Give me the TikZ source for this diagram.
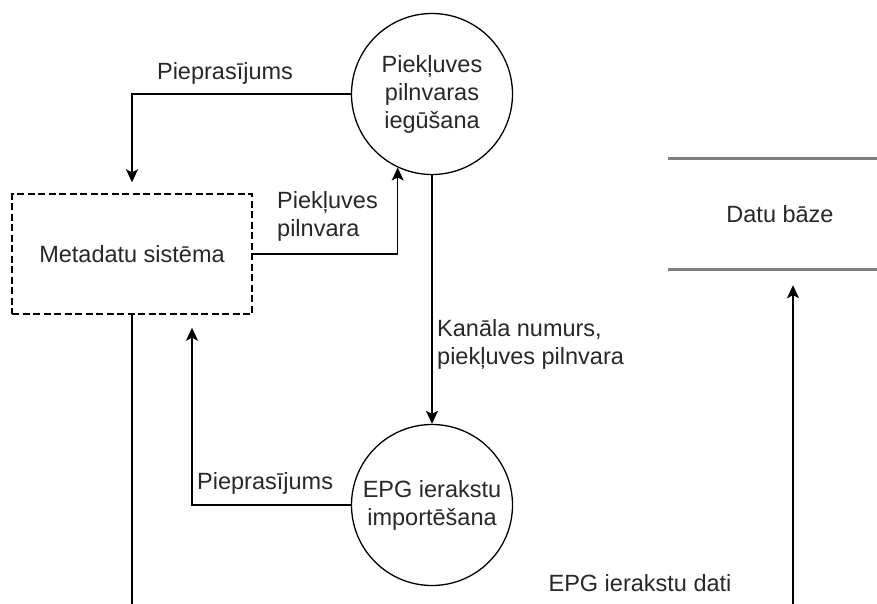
\documentclass[tikz,border=0pt]{standalone}
\usepackage{fontspec}
\setmainfont{Liberation Sans}
\usetikzlibrary{arrows.meta,calc}
\definecolor{txt}{RGB}{40,40,40}
\definecolor{storeline}{RGB}{128,128,128}
\begin{document}
\begin{tikzpicture}[x=1pt,y=-1pt,
  every node/.style={font=\fontsize{23.5}{28}\selectfont, text=txt},
  process/.style={circle, draw=black, line width=1.3pt, minimum size=161pt, inner sep=0pt, align=center},
  extent/.style={rectangle, draw=black, dash pattern=on 7pt off 3.5pt, line width=1.4pt, minimum width=240pt, minimum height=120pt, inner sep=0pt},
  store/.style={rectangle, minimum width=224pt, minimum height=110pt, inner sep=0pt},
  flow/.style={line width=1.4pt, -{Stealth[length=13pt,width=12pt,inset=3pt]}},
  plain/.style={line width=1.4pt},
  lbl/.style={inner sep=0pt, align=left}
]
\clip (0,0) rectangle (877,604);
\fill[white] (0,0) rectangle (877,604);

% processes, external entity and data store
\node[process] (acc) at (432,94) {Piekļuves\\pilnvaras\\iegūšana};
\node[process] (epg) at (432,505) {EPG ierakstu\\importēšana};
\node[extent] (meta) at (132,254) {Metadatu sistēma};
\node[store] (db) at (780,214) {Datu bāze};
\draw[storeline, line width=3pt] (db.north west) -- (db.north east);
\draw[storeline, line width=3pt] (db.south west) -- (db.south east);

% off-canvas ends of the lower flows
\coordinate (metaout) at (132,610);
\coordinate (dbin) at (793,610);

% data flows
\draw[flow, shorten >=11pt] (acc.west) -| (meta.north);
\draw[flow] (meta.east) -| (acc.-115);
\draw[flow] (acc.south) -- (epg.north);
\draw[flow, shorten >=13pt] (epg.west) -| ($(meta.south)+(60,0)$);
\draw[plain] (meta.south) -- (metaout);
\draw[flow, shorten >=16pt] (dbin) -- (dbin |- db.south);

% flow labels
\node[lbl] (l1) at (225,73) {Pieprasījums};
\node[lbl, anchor=west] (l2) at (277,216) {Piekļuves\\pilnvara};
\node[lbl, anchor=west] (l3) at (437,344) {Kanāla numurs,\\piekļuves pilnvara};
\node[lbl, anchor=west] (l4) at (197,483) {Pieprasījums};
\node[lbl] (l5) at (640,583) {EPG ierakstu dati};
\end{tikzpicture}
\end{document}
